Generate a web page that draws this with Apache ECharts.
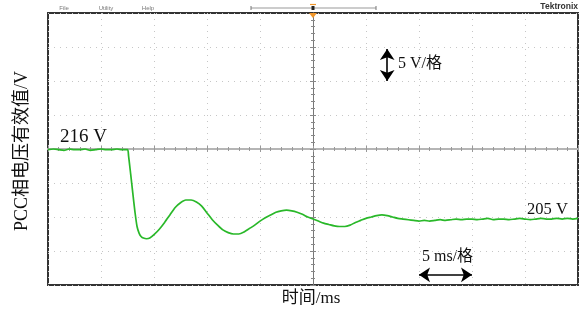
<!DOCTYPE html>
<html><head><meta charset="utf-8">
<script src="https://cdn.jsdelivr.net/npm/echarts@6/dist/echarts.min.js"></script>
<style>html,body{margin:0;padding:0;background:#fff}#c{width:582px;height:322px}</style>
</head><body><div id="c"></div>
<script>
// time in ms (5 ms / division), RMS phase voltage in V (5 V / division)
var timeMs = [0,0.5,1,1.5,2,2.5,3,3.5,4,4.5,5,5.5,6,6.5,7,7.5,
  7.6,7.8,8.0,8.2,8.4,8.6,8.8,9.0,9.3,9.6,10.0,
  10.5,11,11.5,12,12.5,13,13.5,14,14.5,15,15.5,16,16.5,17,17.5,18,18.5,
  19,19.5,20,20.5,21,21.5,22,22.5,23,23.5,24,24.5,25,25.5,26,26.5,27,27.5,
  28,28.5,29,29.5,30,30.5,31,31.5,32,32.5,33,33.5,34,34.5,35,35.5,36,36.5,37,37.5,
  38,38.5,39,39.5,40,40.5,41,41.5,42,42.5,43,43.5,44,44.5,45,45.5,46,46.5,47,47.5,48,48.5,49,49.5,50];
var voltage = [215.9,216.0,215.9,215.8,216.0,215.9,215.9,216.0,215.8,215.9,216.0,215.9,215.9,216.0,215.9,215.9,
  215.0,212.3,209.5,206.8,204.6,203.6,203.1,202.9,202.8,202.9,203.4,
  204.2,205.2,206.3,207.4,208.1,208.5,208.5,208.2,207.6,206.6,205.6,204.8,204.1,203.7,203.5,203.5,203.8,
  204.3,204.8,205.4,205.9,206.3,206.7,206.9,207.0,206.9,206.7,206.4,206.0,205.7,205.4,205.1,204.9,204.7,204.6,
  204.6,204.8,205.2,205.5,205.8,206.0,206.2,206.3,206.2,206.0,205.8,205.7,205.6,205.5,205.4,205.5,205.4,205.5,205.6,205.5,
  205.6,205.7,205.6,205.7,205.7,205.6,205.7,205.8,205.6,205.7,205.7,205.6,205.7,205.8,205.7,205.6,205.7,205.8,205.7,205.7,205.8,205.7,205.8,205.7,205.8];
var xTitle = '时间/ms';
var yTitle = 'PCC相电压有效值/V';
var levelLabels = ['216 V', '205 V'];
var scaleLabels = ['5 V/格', '5 ms/格'];
var menuItems = ['File', 'Utility', 'Help'];

var serif = "'Liberation Serif','Times New Roman','Noto Sans CJK SC',serif";
var pts = timeMs.map(function(t, i){ return [t, voltage[i]]; });

var chart = echarts.init(document.getElementById('c'), null, {renderer:'canvas'});
var dotted = {show:true, lineStyle:{color:'#c6c6c6', width:1, type:[1,5]}};
function centerAxisX(inside, color, w){
  return {type:'value', min:0, max:50, interval:5, position:'bottom', offset:-136,
    axisLine:{show:true, lineStyle:{color:color, width:w}},
    axisTick:{show:true, inside:inside, length:3, lineStyle:{color:'#999'}},
    minorTick:{show:true, splitNumber:5, length:2, lineStyle:{color:'#999'}},
    axisLabel:{show:false}, splitLine:{show:false}};
}
function centerAxisY(inside){
  return {type:'value', min:196, max:236, interval:5, position:'left', offset:-265,
    axisLine:{show:true, lineStyle:{color:'#777', width:1}},
    axisTick:{show:true, inside:inside, length:3, lineStyle:{color:'#888'}},
    minorTick:{show:true, splitNumber:5, length:2, lineStyle:{color:'#888'}},
    axisLabel:{show:false}, splitLine:{show:false}};
}
chart.setOption({
  animation:false,
  grid:{left:48, right:4, top:13, bottom:37, show:true, borderColor:'#333', borderWidth:2, backgroundColor:'#fff'},
  xAxis:[
    {type:'value', min:0, max:50, interval:5, axisLine:{show:false}, axisTick:{show:false}, axisLabel:{show:false},
      splitLine:dotted, minorTick:{show:false}, minorSplitLine:{show:false}},
    centerAxisX(false, '#b5b5b5', 2),
    centerAxisX(true, '#b5b5b5', 2)
  ],
  yAxis:[
    {type:'value', min:196, max:236, interval:5, axisLine:{show:false}, axisTick:{show:false}, axisLabel:{show:false},
      splitLine:dotted},
    centerAxisY(false),
    centerAxisY(true)
  ],
  series:[{
    type:'line', data:pts, xAxisIndex:0, yAxisIndex:0, showSymbol:false, smooth:0.25, z:5,
    lineStyle:{color:'#29b829', width:1.7},
    markLine:{silent:true, symbol:['arrow','arrow'], symbolSize:[11,11], label:{show:false},
      lineStyle:{color:'#000', width:1.6, type:'solid'},
      data:[
        [{coord:[32,226]},{coord:[32,230.7]}],
        [{coord:[35,197.5]},{coord:[40,197.5]}]
      ]}
  }],
  graphic:[
    {type:'text', left:60, top:128, style:{text:levelLabels[0], font:'19px '+serif, fill:'#111'}},
    {type:'text', left:527, top:201, style:{text:levelLabels[1], font:'16.5px '+serif, fill:'#111'}},
    {type:'text', left:398, top:56, style:{text:scaleLabels[0], font:'16px '+serif, fill:'#111'}},
    {type:'text', left:422, top:249, style:{text:scaleLabels[1], font:'16px '+serif, fill:'#111'}},
    {type:'text', x:311, y:299, style:{text:xTitle, font:'17px '+serif, fill:'#111', align:'center', verticalAlign:'middle'}},
    {type:'text', x:22, y:151, rotation:Math.PI/2, style:{text:yTitle, font:'18px '+serif, fill:'#111', align:'center', verticalAlign:'middle'}},
    {type:'text', x:64, y:8, style:{text:menuItems[0], font:'6px sans-serif', fill:'#777', align:'center', verticalAlign:'middle'}},
    {type:'text', x:106, y:8, style:{text:menuItems[1], font:'6px sans-serif', fill:'#777', align:'center', verticalAlign:'middle'}},
    {type:'text', x:148, y:8, style:{text:menuItems[2], font:'6px sans-serif', fill:'#777', align:'center', verticalAlign:'middle'}},
    {type:'text', x:578, y:7, style:{text:'Tektronix', font:'bold 8.5px sans-serif', fill:'#333', align:'right', verticalAlign:'middle'}},
    {type:'line', shape:{x1:251, y1:8, x2:376, y2:8}, style:{stroke:'#999', lineWidth:1}},
    {type:'line', shape:{x1:251, y1:6, x2:251, y2:10}, style:{stroke:'#777', lineWidth:1}},
    {type:'line', shape:{x1:376, y1:6, x2:376, y2:10}, style:{stroke:'#777', lineWidth:1}},
    {type:'rect', shape:{x:311.5, y:6, width:3, height:4}, style:{fill:'#222'}},
    {type:'line', shape:{x1:310, y1:4.5, x2:316, y2:4.5}, style:{stroke:'#f0962a', lineWidth:1.2}},
    {type:'polygon', shape:{points:[[309,13],[317,13],[313,18]]}, style:{fill:'#f0962a'}, z:10}
  ]
});
</script></body></html>
